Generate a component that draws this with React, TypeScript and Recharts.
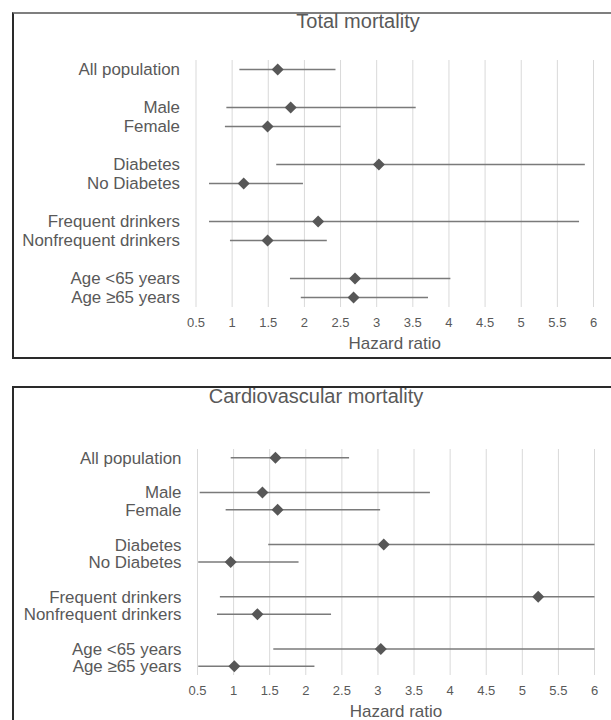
import React from "react";
import { ScatterChart, Scatter, XAxis, YAxis, CartesianGrid, ErrorBar } from "recharts";

// Row layout: labels in display order, null = spacer between groups
const rowLabels: (string | null)[] = [
  "All population",
  null,
  "Male",
  "Female",
  null,
  "Diabetes",
  "No Diabetes",
  null,
  "Frequent drinkers",
  "Nonfrequent drinkers",
  null,
  "Age <65 years",
  "Age ≥65 years",
];

const xTicks = [0.5, 1, 1.5, 2, 2.5, 3, 3.5, 4, 4.5, 5, 5.5, 6];

// Total mortality
const totalHR = [1.63, 1.81, 1.49, 3.03, 1.16, 2.19, 1.49, 2.7, 2.68];
const totalLower = [1.1, 0.92, 0.9, 1.61, 0.68, 0.68, 0.97, 1.8, 1.95];
const totalUpper = [2.43, 3.54, 2.5, 5.88, 1.98, 5.8, 2.31, 4.02, 3.71];

// Cardiovascular mortality
const cvHR = [1.58, 1.4, 1.61, 3.08, 0.96, 5.22, 1.33, 3.04, 1.01];
const cvLower = [0.96, 0.53, 0.89, 1.48, 0.51, 0.81, 0.77, 1.55, 0.51];
const cvUpper = [2.6, 3.72, 3.03, 6.0, 1.9, 6.0, 2.35, 6.0, 2.12];

const FONT = '"Liberation Sans", Arial, sans-serif';
const TEXT = "#595959";

const slots = rowLabels
  .map((l, i) => (l ? i : -1))
  .filter((i) => i >= 0);

function buildRows(hr: number[], lo: number[], hi: number[]) {
  return slots.map((slot, k) => ({
    slot,
    hr: hr[k],
    err: [hr[k] - lo[k], hi[k] - hr[k]],
  }));
}

const Diamond = (p: any) => {
  const { cx, cy } = p;
  const r = 6;
  return (
    <path
      d={`M${cx},${cy - r}L${cx + r},${cy}L${cx},${cy + r}L${cx - r},${cy}Z`}
      fill="#575757"
    />
  );
};

function Forest({
  data,
  width,
  height,
  margin,
  yWidth,
}: {
  data: any[];
  width: number;
  height: number;
  margin: any;
  yWidth: number;
}) {
  return (
    <ScatterChart width={width} height={height} margin={margin}>
      <CartesianGrid horizontal={false} stroke="#d9d9d9" strokeWidth={1} />
      <XAxis
        type="number"
        dataKey="hr"
        domain={[0.5, 6]}
        ticks={xTicks}
        interval={0}
        allowDataOverflow
        axisLine={false}
        tickLine={false}
        tickSize={0}
        tickMargin={10.5}
        height={50}
        tick={{ fontSize: 13, fill: TEXT, fontFamily: FONT }}
        label={{
          value: "Hazard ratio",
          position: "insideBottom",
          offset: 8,
          fontSize: 17,
          fill: TEXT,
          fontFamily: FONT,
        }}
      />
      <YAxis
        type="number"
        dataKey="slot"
        domain={[-0.5, rowLabels.length - 0.5]}
        reversed
        ticks={slots}
        interval={0}
        width={yWidth}
        axisLine={false}
        tickLine={false}
        tickSize={0}
        tickMargin={16}
        tickFormatter={(v: number) => rowLabels[v] ?? ""}
        tick={{ fontSize: 16.9, fill: TEXT, fontFamily: FONT }}
      />
      <Scatter data={data} shape={<Diamond />} isAnimationActive={false}>
        <ErrorBar
          dataKey="err"
          direction="x"
          width={0}
          stroke="#7a7a7a"
          strokeWidth={1.5}
          isAnimationActive={false}
        />
      </Scatter>
    </ScatterChart>
  );
}

export default function App() {
  const totalRows = buildRows(totalHR, totalLower, totalUpper);
  const cvRows = buildRows(cvHR, cvLower, cvUpper);
  return (
    <div
      style={{
        position: "fixed",
        left: 0,
        top: 0,
        width: 611,
        height: 720,
        overflow: "hidden",
        background: "#fff",
        fontFamily: FONT,
      }}
    >
      <div
        style={{
          position: "absolute",
          left: 12,
          top: 12,
          width: 720,
          height: 347,
          boxSizing: "border-box",
          borderLeft: "2px solid #2a2a2a",
          borderBottom: "2px solid #2a2a2a",
          borderTop: "2px solid #7f7f7f",
        }}
      />
      <div
        style={{
          position: "absolute",
          left: 12,
          top: 386,
          width: 720,
          height: 400,
          boxSizing: "border-box",
          borderLeft: "2px solid #2a2a2a",
          borderTop: "2px solid #2a2a2a",
        }}
      />
      <div style={{ position: "absolute", left: 0, top: 0 }}>
        <Forest
          data={totalRows}
          width={640}
          height={357}
          margin={{ top: 60, right: 46.5, bottom: 0, left: 0 }}
          yWidth={196}
        />
      </div>
      <div style={{ position: "absolute", left: 0, top: 390 }}>
        <Forest
          data={cvRows}
          width={640}
          height={335}
          margin={{ top: 59, right: 45.5, bottom: 0, left: 0 }}
          yWidth={197.5}
        />
      </div>
      <svg
        width={611}
        height={720}
        style={{ position: "absolute", left: 0, top: 0, pointerEvents: "none" }}
      >
        <text x={358} y={28} textAnchor="middle" fontSize={20} fill={TEXT} fontFamily={FONT}>
          Total mortality
        </text>
        <text x={316} y={403} textAnchor="middle" fontSize={20} fill={TEXT} fontFamily={FONT}>
          Cardiovascular mortality
        </text>
      </svg>
    </div>
  );
}
